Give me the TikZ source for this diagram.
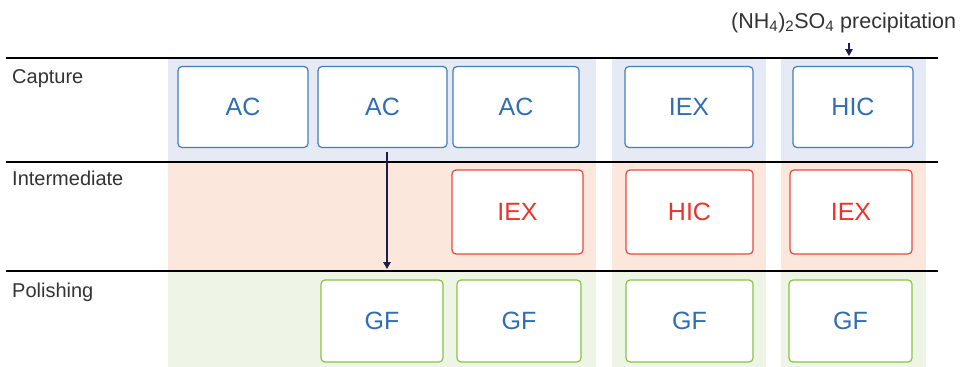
\documentclass[tikz,border=0pt]{standalone}
\usepackage{fontspec}
\setmainfont{Liberation Sans}
\usepackage{tikz}
\usetikzlibrary{positioning,arrows.meta}
\definecolor{capbg}{HTML}{E5EAF5}
\definecolor{intbg}{HTML}{FCE7DD}
\definecolor{polbg}{HTML}{EEF4E6}
\definecolor{gblue}{HTML}{2F6EB5}
\definecolor{gred}{HTML}{E8342A}
\definecolor{ggreen}{HTML}{88C443}
\definecolor{navy}{HTML}{1F1D4A}
\definecolor{ink}{HTML}{333333}

\begin{document}
\begin{tikzpicture}[x=1pt, y=-1pt,
  rule/.style={draw=black, line width=1.2pt},
  lab/.style={font=\fontsize{20}{23}\selectfont, text=ink, inner sep=0},
  box/.style={fill=white, rounded corners=4pt, line width=1.2pt, inner sep=0,
              font=\fontsize{25}{28}\selectfont},
  capbox/.style={box, draw=gblue!90, text=gblue, minimum height=81pt},
  intbox/.style={box, draw=gred!90, text=gred, minimum height=84pt},
  polbox/.style={box, draw=ggreen, text=gblue, minimum height=82pt},
  arr/.style={-{Triangle[length=7pt, width=7.5pt]}, draw=navy, line width=1.3pt}]
\useasboundingbox (0,0) rectangle (962,367);
% shaded columns, one band per step
\foreach \xa/\xb in {168/596, 612/766, 781/926} {
  \fill[capbg] (\xa,58) rectangle (\xb,162);
  \fill[intbg] (\xa,162) rectangle (\xb,271);
  \fill[polbg] (\xa,271) rectangle (\xb,367);
}
\foreach \y in {58,162,271}
  \draw[rule] (6,\y) -- (938,\y);
\node[lab, anchor=base west] (capture) at (12,83) {Capture};
\node[lab, anchor=base west] (intermediate) at (12,185) {Intermediate};
\node[lab, anchor=base west] (polishing) at (12,297) {Polishing};
% capture
\foreach \n/\x/\w/\t in {ac1/243/130/AC, ac2/382.5/129/AC, ac3/516/126/AC,
                         iexa/689/128/IEX, hica/853/120/HIC}
  \node[capbox, minimum width=\w pt] (\n) at (\x,107) {\t};
% intermediate
\foreach \n/\x/\w/\t in {iexb/517.5/131/IEX, hicb/689.5/127/HIC, iexc/851/122/IEX}
  \node[intbox, minimum width=\w pt] (\n) at (\x,212) {\t};
% polishing
\foreach \n/\x/\w in {gf1/382/122, gf2/519/124, gf3/689.5/127, gf4/850.5/123}
  \node[polbox, minimum width=\w pt] (\n) at (\x,321) {GF};
\node[lab, anchor=base west, font=\fontsize{21.5}{24}\selectfont] (prec) at (731,28)
  {(NH\textsubscript{4})\textsubscript{2}SO\textsubscript{4} precipitation};
\coordinate (polin) at (387,269);
\coordinate (hicin) at (849,56);
\draw[arr, shorten <=4pt] (ac2.south -| polin) -- (polin);
\draw[arr, shorten <=10pt] (prec.south -| hicin) -- (hicin);
\end{tikzpicture}
\end{document}
